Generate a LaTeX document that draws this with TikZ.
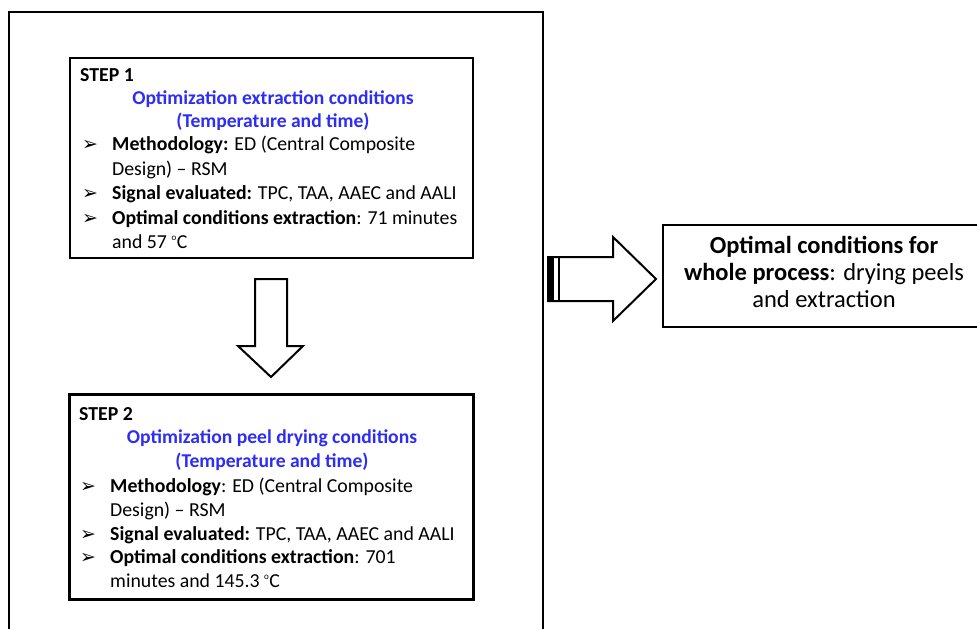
\documentclass[tikz,border=0pt]{standalone}
\usepackage{fontspec}
\setmainfont{Carlito}
\newfontfamily\symfont{DejaVu Sans}
\definecolor{titleblue}{RGB}{45,45,245}
\newcommand{\dego}{\textsuperscript{\fontsize{9}{10}\selectfont o}}
\begin{document}
\begin{tikzpicture}[x=1pt,y=-1pt,
  stepbox/.style={draw, line width=2.4pt, inner sep=0pt},
  txt/.style={anchor=base west, inner sep=0pt, font=\fontsize{19.8}{22}\selectfont},
  ttl/.style={anchor=base, inner sep=0pt, text=titleblue, font=\fontsize{19.6}{22}\selectfont\bfseries},
  bul/.style={anchor=base west, inner sep=0pt, font=\symfont\fontsize{19}{20}\selectfont},
  fin/.style={anchor=base, inner sep=0pt, font=\fontsize{24.5}{28}\selectfont},
  blockarrow/.style={draw, line width=2pt, line join=miter, fill=white}]
\useasboundingbox (0,0) rectangle (977,629);

% outer frame
\draw[line width=2pt] (9,660) -- (9,12) -- (543,12) -- (543,660);

% step boxes
\node[stepbox, minimum width=403pt, minimum height=200pt] (s1) at (271.5,158) {};
\node[stepbox, minimum width=404pt, minimum height=205pt] (s2) at (271.5,497) {};

% step 1 text
\node[txt] (s1h) at (80,81) {\bfseries STEP 1};
\node[ttl] (s1t1) at (273,104) {Optimization extraction conditions};
\node[ttl] (s1t2) at (273,127) {(Temperature and time)};
\node[bul] (s1b1) at (82,150) {➢};
\node[bul] (s1b2) at (82,199) {➢};
\node[bul] (s1b3) at (82,224) {➢};
\node[txt] (s1l1) at (112,150) {\textbf{Methodology:} ED (Central Composite};
\node[txt] (s1l2) at (112,175) {Design) – RSM};
\node[txt] (s1l3) at (112,199) {\textbf{Signal evaluated:} TPC, TAA, AAEC and AALI};
\node[txt] (s1l4) at (112,224) {\textbf{Optimal conditions extraction}: 71 minutes};
\node[txt] (s1l5) at (112,248) {and 57 \dego C};

% step 2 text
\node[txt] (s2h) at (79,420) {\bfseries STEP 2};
\node[ttl] (s2t1) at (272,443) {Optimization peel drying conditions};
\node[ttl] (s2t2) at (272,467) {(Temperature and time)};
\node[bul] (s2b1) at (80,492) {➢};
\node[bul] (s2b2) at (80,540) {➢};
\node[bul] (s2b3) at (80,563) {➢};
\node[txt] (s2l1) at (110,492) {\textbf{Methodology}: ED (Central Composite};
\node[txt] (s2l2) at (110,516) {Design) – RSM};
\node[txt] (s2l3) at (110,540) {\textbf{Signal evaluated:} TPC, TAA, AAEC and AALI};
\node[txt] (s2l4) at (110,563) {\textbf{Optimal conditions extraction}: 701};
\node[txt] (s2l5) at (110,587) {minutes and 145.3 \dego C};

% down block arrow
\draw[blockarrow] (255,279) -- (287,279) -- (287,346) -- (303,346) -- (271,377) -- (238,346) -- (255,346) -- cycle;

% final box
\node[stepbox, minimum width=330pt, minimum height=102pt] (fb) at (828,276) {};
\node[fin] (f1) at (824,253) {\textbf{Optimal conditions for}};
\node[fin] (f2) at (824,280) {\textbf{whole process}: drying peels};
\node[fin] (f3) at (824,307) {and extraction};

% right block arrow with striped tail
\draw[blockarrow] (548,257) -- (613,257) -- (613,237) -- (656,279) -- (613,321) -- (613,301) -- (548,301) -- cycle;
\fill (547,256) rectangle (554,302);
\draw[line width=2.4pt] (559,257) -- (559,301);
\end{tikzpicture}
\end{document}
